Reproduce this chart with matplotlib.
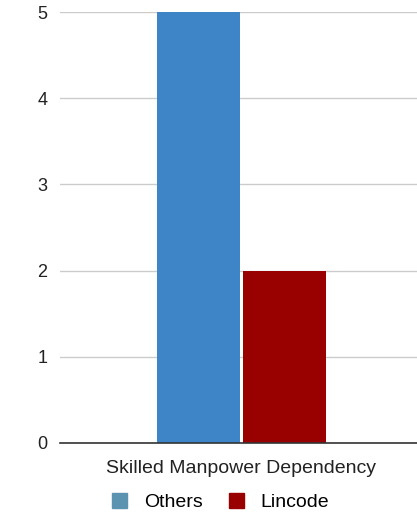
import numpy as np
import matplotlib
matplotlib.use("Agg")
from matplotlib import pyplot as plt
from matplotlib.patches import Patch

plt.rcParams['font.family'] = ['Liberation Sans', 'DejaVu Sans']

categories = ["Skilled Manpower Dependency"]
series_names = ["Others", "Lincode"]
others = [5]
lincode = [2]
bar_colors = ["#3d85c6", "#990000"]
legend_colors = ["#5b93b0", "#990000"]

fig = plt.figure(figsize=(4.17, 5.16), dpi=100)
ax = fig.add_axes([0.144, 0.1415, 0.856, 0.8352])

x = np.arange(len(categories))
w = 0.232
ax.bar(x - 0.121, others, w, color=bar_colors[0], zorder=3)
ax.bar(x + 0.121, lincode, w, color=bar_colors[1], zorder=3)

ax.set_xlim(-0.508, 0.492)
ax.set_ylim(0, 5)
ax.set_yticks(range(6))
ax.set_xticks(x)
ax.set_xticklabels(categories, fontsize=14, color="#222222")
ax.tick_params(axis="y", length=0, labelsize=13, pad=9, labelcolor="#222222")
ax.tick_params(axis="x", length=0, pad=12)
ax.grid(axis="y", color="#cccccc", linewidth=1, zorder=0)
for s in ["top", "right", "left"]:
    ax.spines[s].set_visible(False)
ax.spines["bottom"].set_color("#333333")
ax.spines["bottom"].set_linewidth(1.2)
ax.spines["bottom"].set_zorder(4)

handles = [Patch(facecolor=c, edgecolor=c) for c in legend_colors]
fig.legend(handles, series_names, loc="center", bbox_to_anchor=(0.529, 0.027),
           ncol=2, frameon=False, fontsize=14, handlelength=0.77, handleheight=0.77,
           columnspacing=1.34, handletextpad=0.87)

fig.savefig("out.png", dpi=100)
